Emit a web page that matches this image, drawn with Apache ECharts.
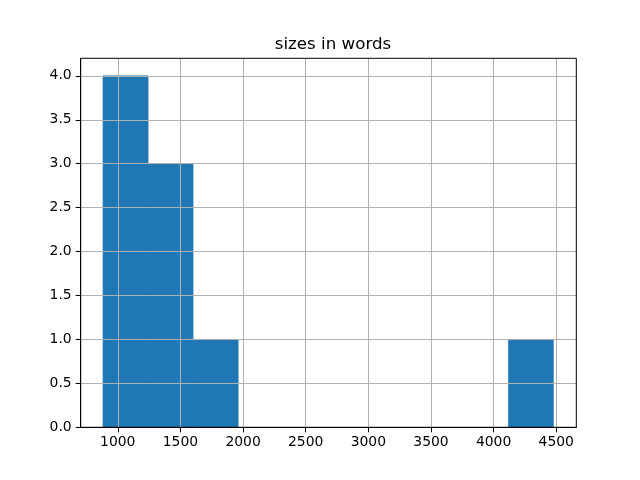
<!DOCTYPE html>
<html>
<head>
<meta charset="utf-8">
<script src="https://cdn.jsdelivr.net/npm/echarts@6/dist/echarts.min.js"></script>
<style>html,body{margin:0;padding:0;background:#fff}#c{width:640px;height:480px}</style>
</head>
<body>
<div id="c"></div>
<script>
// histogram bin edges (words) and counts
var binEdges = [882, 1242, 1601, 1961, 2320, 2680, 3039, 3399, 3758, 4118, 4477];
var counts = [4, 3, 1, 0, 0, 0, 0, 0, 0, 1];
var xTicks = [1000, 1500, 2000, 2500, 3000, 3500, 4000, 4500];
var yTicks = [0, 0.5, 1, 1.5, 2, 2.5, 3, 3.5, 4];
var titleText = 'sizes in words';

var data = [];
for (var i = 0; i < counts.length; i++) {
  data.push([binEdges[i], binEdges[i + 1], counts[i]]);
}
var font = 'DejaVu Sans';
var chart = echarts.init(document.getElementById('c'), null, {renderer: 'canvas'});
chart.setOption({
  animation: false,
  backgroundColor: '#fff',
  title: {
    text: titleText, left: 328, top: 31, textAlign: 'center',
    textStyle: {fontFamily: font, fontSize: 16.7, fontWeight: 'normal', color: '#000'}
  },
  grid: {
    left: 80.7, right: 63.7, top: 58.3, bottom: 52.7,
    show: true, borderColor: '#000', borderWidth: 1, backgroundColor: 'transparent', z: 10
  },
  xAxis: {
    type: 'value', min: 704, max: 4660, splitNumber: 8, z: 5,
    axisLine: {show: true, onZero: false, lineStyle: {color: '#000', width: 1}},
    axisTick: {show: true, inside: false, length: 5, lineStyle: {color: '#000'},
      customValues: xTicks},
    axisLabel: {show: true, margin: 8, color: '#000', fontFamily: font, fontSize: 13.9,
      customValues: xTicks, formatter: function (v) { return String(v); }},
    splitLine: {show: true, lineStyle: {color: '#b0b0b0', width: 1}}
  },
  yAxis: {
    type: 'value', min: 0, max: 4.2, interval: 0.5, z: 5,
    axisLine: {show: true, lineStyle: {color: '#000', width: 1}},
    axisTick: {show: true, inside: false, length: 5, lineStyle: {color: '#000'},
      customValues: yTicks},
    axisLabel: {show: true, margin: 9, color: '#000', fontFamily: font, fontSize: 13.9,
      customValues: yTicks, formatter: function (v) { return v.toFixed(1); }},
    splitLine: {show: true, lineStyle: {color: '#b0b0b0', width: 1}}
  },
  series: [{
    type: 'custom', z: 2,
    encode: {x: [0, 1], y: 2},
    data: data,
    renderItem: function (params, api) {
      if (api.value(2) <= 0) { return null; }
      var p0 = api.coord([api.value(0), api.value(2)]);
      var p1 = api.coord([api.value(1), 0]);
      return {
        type: 'rect',
        shape: {x: p0[0], y: p0[1], width: p1[0] - p0[0], height: p1[1] - p0[1]},
        style: {fill: '#1f77b4', stroke: '#1f77b4', lineWidth: 0.6}
      };
    }
  }]
});
</script>
</body>
</html>
